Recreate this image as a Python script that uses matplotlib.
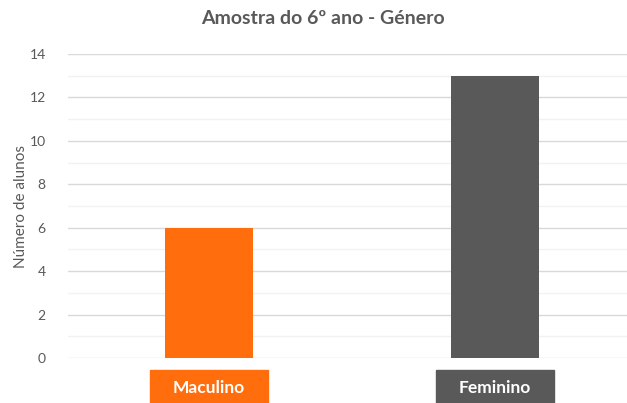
import matplotlib.pyplot as plt
import matplotlib.transforms as mtransforms
from matplotlib.patches import Rectangle

# data
categorias = ['Maculino', 'Feminino']
alunos = [6, 13]
cores = ['#FF6D0D', '#595959']

plt.rcParams['font.family'] = ['Lato', 'DejaVu Sans']

fig = plt.figure(figsize=(6.27, 4.03), dpi=100)
ax = fig.add_axes([68 / 627, 45 / 403, 1 - 68 / 627, 304 / 403])

x = list(range(len(categorias)))
ax.bar(x, alunos, width=0.31, color=cores, zorder=3)

ax.set_xlim(-0.493, 1.461)
ax.set_ylim(0, 14)
ax.set_yticks(range(0, 15, 2))
ax.set_yticks(range(1, 15, 2), minor=True)
ax.grid(axis='y', which='major', color='#D9D9D9', lw=1, zorder=0)
ax.grid(axis='y', which='minor', color='#F2F2F2', lw=1, zorder=0)
ax.tick_params(axis='y', which='both', length=0, pad=16, labelsize=10, labelcolor='#595959')
ax.tick_params(axis='x', length=0, labelbottom=False)
for s in ax.spines.values():
    s.set_visible(False)

ax.set_ylabel('Número de alunos', fontsize=11, color='#595959', labelpad=1)
fig.text(323 / 627, 1 - 19 / 403, 'Amostra do 6º ano - Género', fontsize=14,
         color='#595959', fontweight='bold', ha='center', va='center')

# category labels in coloured boxes
trans = mtransforms.blended_transform_factory(ax.transData, ax.transAxes)
for xi, nome, c in zip(x, categorias, cores):
    ax.add_patch(Rectangle((xi - 0.207, -0.2), 0.414, 0.16, transform=trans,
                           color=c, clip_on=False, zorder=3))
    ax.text(xi, -0.099, nome, transform=trans, ha='center', va='center',
            color='white', fontsize=12.5, fontweight='bold')

fig.savefig('out.png', dpi=100)
